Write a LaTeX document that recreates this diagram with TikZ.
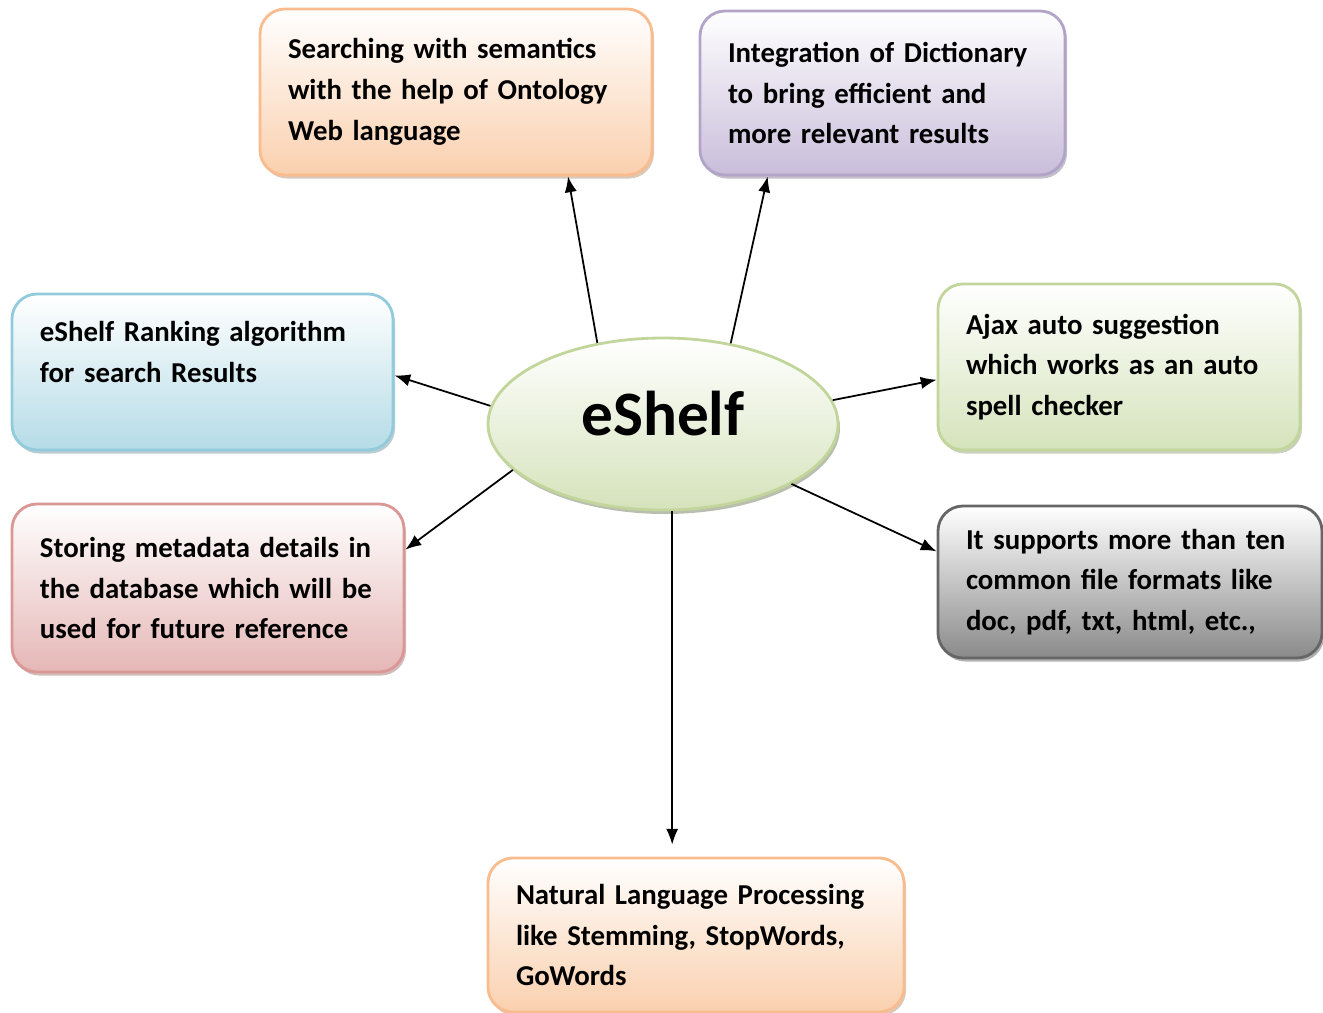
\documentclass[tikz,border=0pt]{standalone}
\usepackage{fontspec}
\setmainfont{Carlito}
\usepackage{tikz}
\usetikzlibrary{shapes.geometric,shadows,arrows.meta}
\definecolor{FontColor}{HTML}{000000}
\definecolor{OrangeFill}{HTML}{FAD0AE}
\definecolor{OrangeLine}{HTML}{F8BC8E}
\definecolor{PurpleFill}{HTML}{C9BDDA}
\definecolor{PurpleLine}{HTML}{B2A3C8}
\definecolor{BlueFill}{HTML}{B5DCE7}
\definecolor{BlueLine}{HTML}{92CCDC}
\definecolor{GreenFill}{HTML}{D5E3BB}
\definecolor{GreenLine}{HTML}{C2D69C}
\definecolor{RedFill}{HTML}{E5B7B6}
\definecolor{RedLine}{HTML}{D99795}
\definecolor{GrayFill}{HTML}{8A8A8A}
\definecolor{GrayLine}{HTML}{666666}
\newcommand\nodesem{Searching with semantics\\with the help of Ontology\\Web language}
\newcommand\nodedict{Integration of Dictionary\\to bring efficient and\\more relevant results}
\newcommand\noderank{eShelf Ranking algorithm\\for search Results\\\mbox{}}
\newcommand\nodeajax{Ajax auto suggestion\\which works as an auto\\spell checker}
\newcommand\nodestore{Storing metadata details in\\the database which will be\\used for future reference}
\newcommand\nodefmt{It supports more than ten\\common file formats like\\doc, pdf, txt, html, etc.,}
\newcommand\nodenlp{Natural Language Processing\\like Stemming, StopWords,\\GoWords}
\tikzstyle{boxtext} = [font=\bfseries\fontsize{16.4}{23.2}\selectfont, text=FontColor]
\tikzstyle{infobox} = [boxtext, rectangle, rounded corners=0.5cm, line width=1.6pt, align=left,
  inner xsep=0.56cm, inner ysep=0pt]
\tikzstyle{ob} = [infobox, draw=OrangeLine, top color=white, middle color=OrangeFill!60, bottom color=OrangeFill,
  drop shadow={shadow xshift=0.04cm, shadow yshift=-0.07cm, fill=OrangeLine!70!black, opacity=0.45}]
\tikzstyle{pb} = [infobox, draw=PurpleLine, top color=white, middle color=PurpleFill!60, bottom color=PurpleFill,
  drop shadow={shadow xshift=0.04cm, shadow yshift=-0.07cm, fill=PurpleLine!70!black, opacity=0.45}]
\tikzstyle{bb} = [infobox, draw=BlueLine, top color=white, middle color=BlueFill!60, bottom color=BlueFill,
  drop shadow={shadow xshift=0.04cm, shadow yshift=-0.07cm, fill=BlueLine!70!black, opacity=0.45}]
\tikzstyle{gb} = [infobox, draw=GreenLine, top color=white, middle color=GreenFill!60, bottom color=GreenFill,
  drop shadow={shadow xshift=0.04cm, shadow yshift=-0.07cm, fill=GreenLine!70!black, opacity=0.45}]
\tikzstyle{rb} = [infobox, draw=RedLine, top color=white, middle color=RedFill!60, bottom color=RedFill,
  drop shadow={shadow xshift=0.04cm, shadow yshift=-0.07cm, fill=RedLine!70!black, opacity=0.45}]
\tikzstyle{kb} = [infobox, draw=GrayLine, top color=white, middle color=GrayFill!45, bottom color=GrayFill,
  drop shadow={shadow xshift=0.04cm, shadow yshift=-0.07cm, fill=black, opacity=0.3}]
\tikzstyle{hubstyle} = [ellipse, minimum width=7cm, minimum height=3.44cm, line width=1.6pt, draw=GreenLine,
  top color=white, middle color=GreenFill!55, bottom color=GreenFill, text=FontColor,
  font=\bfseries\fontsize{36}{40}\selectfont,
  drop shadow={shadow xshift=0.04cm, shadow yshift=-0.08cm, fill=GreenLine!60!black, opacity=0.5}]
\tikzset{>={Latex[length=9pt,width=7pt]}, every picture/.style={line width=1pt}}

\begin{document}
\begin{tikzpicture}
\useasboundingbox (0,0) rectangle (26.46,-20.26);
\node[hubstyle] (hub) at (13.26, -8.48) {\raisebox{0.44cm}{eShelf}};
\node[ob, minimum width=7.84cm, minimum height=3.32cm, text width=6.72cm] (sem) at (9.12, -1.84) {\nodesem};
\node[pb, minimum width=7.30cm, minimum height=3.28cm, text width=6.18cm] (dict) at (17.65, -1.86) {\nodedict};
\node[bb, minimum width=7.62cm, minimum height=3.12cm, text width=6.50cm] (rank) at (4.05, -7.44) {\noderank};
\node[gb, minimum width=7.24cm, minimum height=3.32cm, text width=6.12cm] (ajax) at (22.38, -7.34) {\nodeajax};
\node[rb, minimum width=7.84cm, minimum height=3.36cm, text width=6.72cm] (store) at (4.16, -11.76) {\nodestore};
\node[kb, minimum width=7.68cm, minimum height=3.04cm, text width=6.56cm] (fmt) at (22.60, -11.64) {\nodefmt};
\node[ob, minimum width=8.32cm, minimum height=3.08cm, text width=7.20cm] (nlp) at (13.92, -18.70) {\nodenlp};
\draw [->] (hub.129.5) -- (sem.-37.9);
\draw [->] (hub.50.1) -- (dict.-144.6);
\draw [->] (hub.174.8) -- (rank.-1.8);
\draw [->] (hub.8.5) -- (ajax.-176.5);
\draw [->] (hub.-163.8) -- (store.11);
\draw [->] (hub.-25.3) -- (fmt.171.4);
\draw [->, shorten >=0.24cm] (hub.-84) -- (hub.-84 |- nlp.north);
\end{tikzpicture}
\end{document}
